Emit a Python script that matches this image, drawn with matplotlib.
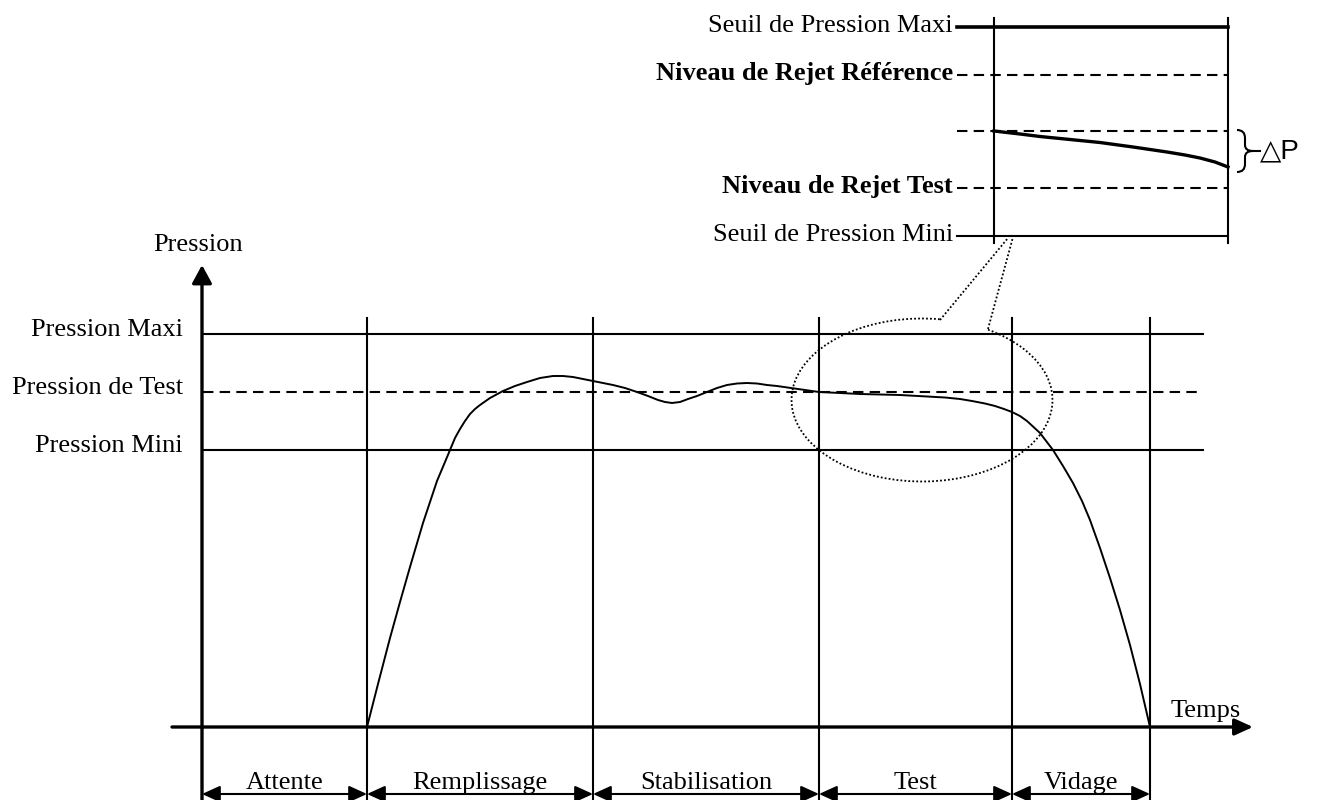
import matplotlib
matplotlib.use("Agg")
import matplotlib.pyplot as plt
from matplotlib.patches import Arc
from matplotlib.path import Path
from matplotlib.patches import PathPatch

plt.rcParams["font.family"] = ["Liberation Serif", "DejaVu Serif"]

# Phases du cycle (bornes sur l'axe du temps)
phase_names = ["Attente", "Remplissage", "Stabilisation", "Test", "Vidage"]
phase_edges = [202, 367, 593, 819, 1012, 1150]

# Niveaux de pression
level_names = ["Pression Maxi", "Pression de Test", "Pression Mini"]
level_values = [334, 392, 450]
level_dashed = [False, True, False]

curve_t = [367, 378, 390, 400, 410, 423, 437, 445, 450, 455, 460, 465, 470, 475,
           480, 490, 503, 515, 527, 540, 553, 563, 573, 583, 593, 603, 613, 625,
           637, 648, 658, 665, 672, 680, 688, 697, 707, 717, 727, 737, 747, 757,
           767, 777, 798, 819, 840, 860, 880, 900, 927, 945, 960, 972, 985, 995,
           1004, 1012, 1020, 1027, 1040, 1053, 1063, 1073, 1082, 1090, 1100, 1110,
           1120, 1130, 1140, 1150]
curve_p = [727, 684, 638, 602, 567, 523, 481, 462, 450, 438, 429, 421, 414, 409,
           405, 398, 391, 386, 382, 378, 376, 376, 377, 379, 381, 383, 385, 388,
           392, 396, 400, 402, 403, 402, 399, 396, 392, 388, 385, 383.5, 383, 383.5,
           385, 386, 389, 392, 393, 394, 394.5, 395, 396.5, 397.5, 399, 401, 403.5, 406,
           409, 412, 416, 421, 433, 450, 466, 483, 501, 520, 548, 578,
           610, 645, 684, 727]

# Zoom sur la phase de test
inset_names = ["Seuil de Pression Maxi", "Niveau de Rejet Référence", "",
               "Niveau de Rejet Test", "Seuil de Pression Mini"]
inset_values = [27, 75, 131, 188, 236]
inset_bold = [False, True, False, True, False]
inset_dashed = [False, True, True, True, False]
inset_t = [994, 1020, 1040, 1070, 1100, 1133, 1167, 1185, 1200, 1215, 1228]
inset_p = [131, 134, 136.5, 139.5, 142.5, 147, 152, 155, 158, 162, 167]

# Bulle de la loupe
bubble_center = (922, 400)
bubble_size = (261, 163)
bubble_tails = [((940, 320), (1008, 238)), ((988, 329), (1013, 237))]

fig = plt.figure(figsize=(13.26, 8), dpi=100)
ax = fig.add_axes([0, 0, 1, 1])
ax.set_xlim(0, 1326)
ax.set_ylim(800, 0)
ax.axis("off")

fs = 19
axis_x = phase_edges[0]
time_y = 727
lw_thin = 1.5
lw_axis = 2.4

# Axes avec flèches
ax.annotate("", xy=(axis_x, 265), xytext=(axis_x, 800),
            arrowprops=dict(arrowstyle="-|>,head_length=0.55,head_width=0.3",
                            lw=lw_axis, color="k", shrinkA=0, shrinkB=0, mutation_scale=20))
ax.annotate("", xy=(1253, time_y), xytext=(172, time_y),
            arrowprops=dict(arrowstyle="-|>,head_length=0.55,head_width=0.25",
                            lw=lw_axis, color="k", shrinkA=0, shrinkB=0, mutation_scale=20))
ax.text(198, 251, "Pression", fontsize=fs, ha="center", va="baseline")
ax.text(1206, 717, "Temps", fontsize=fs, ha="center", va="baseline")

# Niveaux de pression
for name, y, dashed in zip(level_names, level_values, level_dashed):
    ls = (0, (5, 3)) if dashed else "-"
    ax.plot([axis_x + 1, 1203], [y, y], color="k", lw=lw_thin, ls=ls)
    ax.text(183, y + 2, name, fontsize=fs, ha="right", va="baseline")

# Séparations des phases
for x in phase_edges[1:]:
    ax.plot([x, x], [318, 800], color="k", lw=lw_thin)

# Flèches de durée des phases
for name, a, b in zip(phase_names, phase_edges[:-1], phase_edges[1:]):
    ax.annotate("", xy=(b, 794), xytext=(a, 794),
                arrowprops=dict(arrowstyle="<|-|>,head_length=0.55,head_width=0.25",
                                lw=lw_thin, color="k", shrinkA=0, shrinkB=0, mutation_scale=20))
    ax.text((a + b) / 2, 789, name, fontsize=fs, ha="center", va="baseline")

# Courbe de pression
ax.plot(curve_t, curve_p, color="k", lw=1.4)

# Bulle pointillée
ax.add_patch(Arc(bubble_center, bubble_size[0], bubble_size[1], theta1=-46.8, theta2=282.6,
                 color="k", lw=1.3, ls=(0, (1, 1.2))))
for (p0, p1) in bubble_tails:
    ax.plot([p0[0], p1[0]], [p0[1], p1[1]], color="k", lw=1.3, ls=(0, (1, 1.2)))

# Encadré de zoom
ax.plot([inset_t[0], inset_t[0]], [18, 243], color="k", lw=lw_thin)
ax.plot([inset_t[-1], inset_t[-1]], [18, 243], color="k", lw=lw_thin)
for i, (name, y, bold, dashed) in enumerate(zip(inset_names, inset_values, inset_bold, inset_dashed)):
    ls = (0, (5, 3)) if dashed else "-"
    lw = 2.6 if i == 0 else lw_thin
    ax.plot([957, inset_t[-1]], [y, y], color="k", lw=lw, ls=ls)
    if name:
        ax.text(953, y + 5, name, fontsize=fs, ha="right", va="baseline",
                fontweight="bold" if bold else "normal")
ax.plot(inset_t, inset_p, color="k", lw=2.4)

# Accolade Delta P
top, bot = inset_p[0] - 1, inset_p[-1] + 5
mid = (top + bot) / 2
x0, xm, xt = 1237, 1245, 1253
verts = [(x0, top), (xm, top), (xm, top + 8), (xm, mid - 6), (xm, mid), (xt, mid),
         (xm, mid), (xm, mid + 6), (xm, bot - 8), (xm, bot), (x0, bot)]
codes = [Path.MOVETO, Path.CURVE3, Path.CURVE3, Path.LINETO, Path.CURVE3, Path.CURVE3,
         Path.CURVE3, Path.CURVE3, Path.LINETO, Path.CURVE3, Path.CURVE3]
ax.add_patch(PathPatch(Path(verts, codes), fill=False, lw=1.5, color="k"))
ax.plot([xt, 1260], [mid, mid], color="k", lw=1.5)
ax.text(1260, mid, "△P", fontsize=20, ha="left", va="center",
        family=["Liberation Sans", "DejaVu Sans"])

fig.savefig("out.png", dpi=100)
plt.close(fig)
